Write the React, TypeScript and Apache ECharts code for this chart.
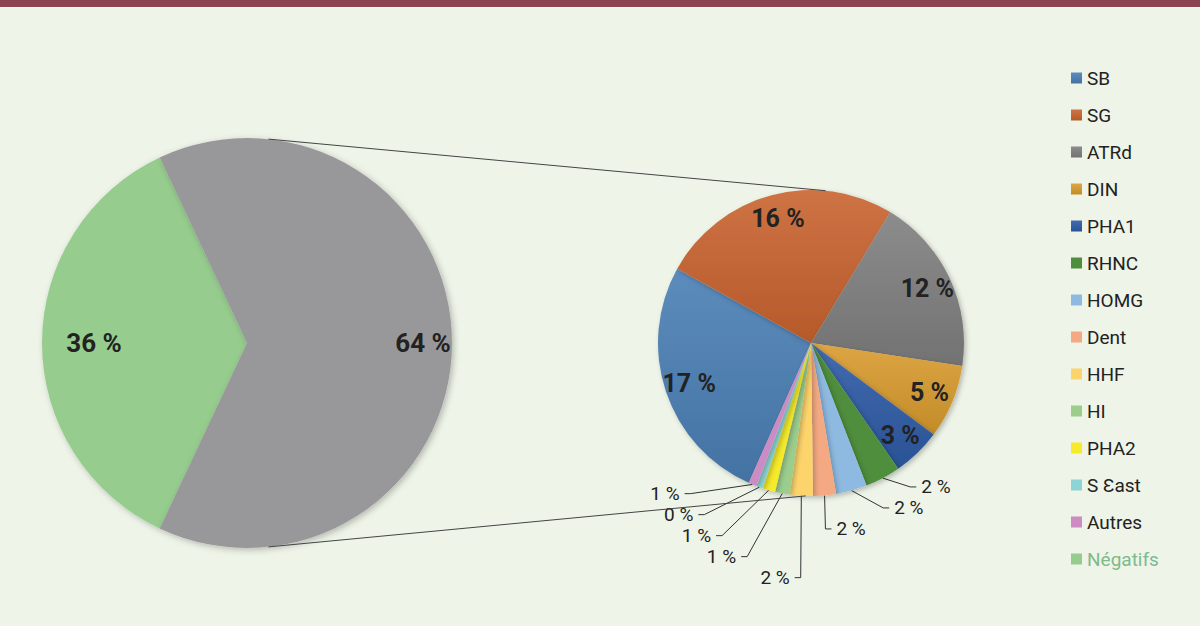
import React, { useEffect, useRef } from "react";
import * as echarts from "echarts";

// ---- data ----
const detailNames = ["SB", "SG", "ATRd", "DIN", "PHA1", "RHNC", "HOMG", "Dent", "HHF", "HI", "PHA2", "S Ɛast", "Autres"];
const detailValues = [16.9, 16.4, 12.0, 5.0, 3.3, 2.4, 2.1, 1.55, 1.55, 1.0, 0.85, 0.45, 0.55];
const detailColors = ["#4A7FB5", "#C9632F", "#7F7F7F", "#D99B2E", "#2E5BA6", "#4F8E3D", "#8EBAE1", "#F4A982", "#FDD46C", "#9BCD8C", "#F6EA2A", "#8FD4D4", "#CC8BC3"];
const overviewNames = ["Négatifs", "Positifs"];
const overviewValues = [36, 64];
const overviewColors = ["#96CC8E", "#98989A"];
const legendNames = [...detailNames, "Négatifs"];

const FONT = "Roboto, 'Liberation Sans Narrow', sans-serif";

function shade(hex: string, f: number) {
  const n = parseInt(hex.slice(1), 16);
  const ch = [(n >> 16) & 255, (n >> 8) & 255, n & 255].map((v) =>
    Math.max(0, Math.min(255, Math.round(f >= 0 ? v + (255 - v) * f : v * (1 + f))))
  );
  return "rgb(" + ch.join(",") + ")";
}

export default function App() {
  const ref = useRef<HTMLDivElement>(null);
  useEffect(() => {
    document.body.style.margin = "0";
    const chart = echarts.init(ref.current!, null, { renderer: "svg" });

    const LC = [247, 343];
    const LR = 205;
    const RC = [811, 343];
    const RR = 153;
    const pt = (c: number[], r: number, deg: number) => [c[0] + r * Math.cos((deg * Math.PI) / 180), c[1] - r * Math.sin((deg * Math.PI) / 180)];
    const lt = pt(LC, LR, 84);
    const rt = pt(RC, RR, 84.5);
    const lb = pt(LC, LR, -84);
    const rb = pt(RC, RR, -92);

    const bigThreshold = 3;
    const fmt = (p: any) => Math.round(p.value) + " %";
    const grad = (c: string) => ({
      type: "linear",
      x: 0, y: 0, x2: 0, y2: 1,
      colorStops: [
        { offset: 0, color: shade(c, 0.1) },
        { offset: 1, color: shade(c, -0.1) },
      ],
    });

    const leftLabelSeries = (idx: number, inner: number) => ({
      type: "pie",
      name: "overviewLabels" + idx,
      center: LC,
      radius: [inner, LR],
      startAngle: 244.8,
      clockwise: true,
      silent: true,
      itemStyle: { color: "transparent" },
      label: { show: true, position: "inside", formatter: fmt, fontFamily: FONT, fontSize: 26, fontWeight: "bold", color: "#222" },
      labelLine: { show: false },
      data: overviewNames.map((n, i) => ({ name: "lbl-" + n, value: overviewValues[i], label: { show: i === idx } })),
    });

    chart.setOption({
      animation: false,
      backgroundColor: "#EEF4E8",
      legend: {
        orient: "vertical",
        left: 1066,
        top: 63,
        itemWidth: 11,
        itemHeight: 11,
        itemGap: 17,
        icon: "rect",
        selectedMode: false,
        textStyle: { fontFamily: FONT, fontSize: 19, color: "#222", lineHeight: 20 },
        data: legendNames.map((n) => (n === "Négatifs" ? { name: n, textStyle: { color: "#7DBA8C" } } : { name: n })),
      },
      graphic: [
        { type: "rect", shape: { x: 0, y: 0, width: 1200, height: 7 }, style: { fill: "#8C4452" } },
        { type: "rect", shape: { x: 0, y: 7, width: 1200, height: 1 }, style: { fill: "#F7F9F2" } },
        { type: "line", shape: { x1: lt[0], y1: lt[1], x2: rt[0], y2: rt[1] }, style: { stroke: "#444", lineWidth: 1 }, z: 10 },
        { type: "line", shape: { x1: lb[0], y1: lb[1], x2: rb[0], y2: rb[1] }, style: { stroke: "#444", lineWidth: 1 }, z: 10 },
      ],
      series: [
        {
          type: "pie",
          name: "overview",
          center: LC,
          radius: [0, LR],
          startAngle: 244.8,
          clockwise: true,
          silent: true,
          label: { show: false },
          labelLine: { show: false },
          itemStyle: { shadowBlur: 6, shadowColor: "rgba(0,0,0,0.25)", shadowOffsetX: 2, shadowOffsetY: 2 },
          data: overviewNames.map((n, i) => ({ name: n, value: overviewValues[i], itemStyle: { color: overviewColors[i] } })),
        },
        leftLabelSeries(0, 95),
        leftLabelSeries(1, 141),
        {
          type: "pie",
          name: "detail",
          center: RC,
          radius: [0, RR],
          startAngle: 246,
          clockwise: true,
          silent: true,
          avoidLabelOverlap: true,
          itemStyle: { shadowBlur: 5, shadowColor: "rgba(0,0,0,0.25)", shadowOffsetX: 2, shadowOffsetY: 2 },
          label: { show: true, position: "outside", formatter: fmt, fontFamily: FONT, fontSize: 19, color: "#222" },
          labelLine: { show: true, length: 10, length2: 6, lineStyle: { color: "#333", width: 1 } },
          data: detailNames.map((n, i) => {
            const big = detailValues[i] >= bigThreshold;
            return {
              name: n,
              value: detailValues[i],
              itemStyle: { color: i < 5 ? grad(detailColors[i]) : detailColors[i] },
              label: { show: !big },
              labelLine: { show: !big },
            };
          }),
        },
        {
          type: "pie",
          name: "detailLabels",
          center: RC,
          radius: [RR * 0.64, RR],
          startAngle: 246,
          clockwise: true,
          silent: true,
          itemStyle: { color: "transparent" },
          label: { show: true, position: "inside", formatter: fmt, fontFamily: FONT, fontSize: 25, fontWeight: "bold", color: "#222" },
          labelLine: { show: false },
          data: detailNames.map((n, i) => ({
            name: "lbl-" + n,
            value: detailValues[i],
            label: { show: detailValues[i] >= bigThreshold },
          })),
        },
      ],
    });
    return () => chart.dispose();
  }, []);
  return <div ref={ref} style={{ width: 1200, height: 626 }} />;
}
